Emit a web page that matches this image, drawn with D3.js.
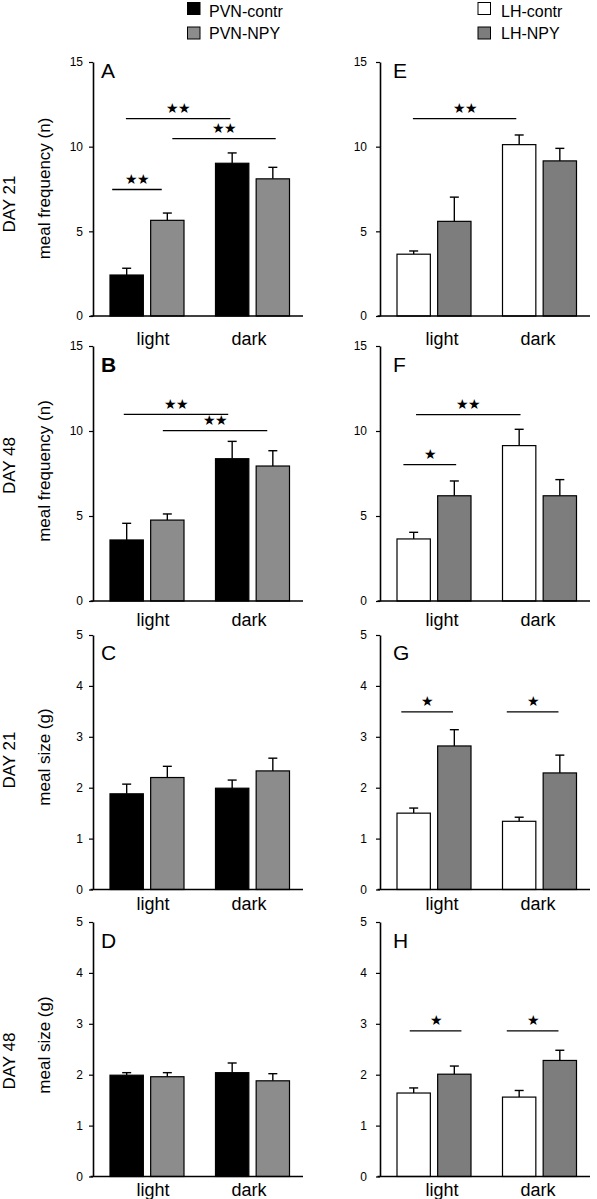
<!DOCTYPE html>
<html>
<head>
<meta charset="utf-8">
<script src="https://cdn.jsdelivr.net/npm/d3@7"></script>
<style>
  html, body { margin: 0; padding: 0; background: #fff; }
  svg { display: block; }
  text { font-family: "Liberation Sans", Arial, sans-serif; fill: #000; }
</style>
</head>
<body>
<script>
// ---------- DATA ----------
const categories = ["light", "dark"];
const pvnSeries = ["PVN-contr", "PVN-NPY"];
const lhSeries = ["LH-contr", "LH-NPY"];
const freqTicks = [0, 5, 10, 15];
const sizeTicks = [0, 1, 2, 3, 4, 5];

// meal frequency (n), DAY 21 — panel A (PVN) and E (LH): [light, dark]
const freqD21PvnContr = [2.42, 9.02];
const freqD21PvnContrSem = [0.40, 0.61];
const freqD21PvnNpy = [5.65, 8.10];
const freqD21PvnNpySem = [0.43, 0.68];
const freqD21LhContr = [3.65, 10.12];
const freqD21LhContrSem = [0.19, 0.57];
const freqD21LhNpy = [5.59, 9.16];
const freqD21LhNpySem = [1.43, 0.74];

// meal frequency (n), DAY 48 — panel B (PVN) and F (LH)
const freqD48PvnContr = [3.59, 8.37];
const freqD48PvnContrSem = [0.98, 1.02];
const freqD48PvnNpy = [4.76, 7.94];
const freqD48PvnNpySem = [0.36, 0.90];
const freqD48LhContr = [3.65, 9.14];
const freqD48LhContrSem = [0.39, 0.96];
const freqD48LhNpy = [6.19, 6.19];
const freqD48LhNpySem = [0.87, 0.95];

// meal size (g), DAY 21 — panel C (PVN) and G (LH)
const sizeD21PvnContr = [1.88, 1.99];
const sizeD21PvnContrSem = [0.19, 0.16];
const sizeD21PvnNpy = [2.20, 2.33];
const sizeD21PvnNpySem = [0.22, 0.25];
const sizeD21LhContr = [1.50, 1.34];
const sizeD21LhContrSem = [0.10, 0.08];
const sizeD21LhNpy = [2.82, 2.29];
const sizeD21LhNpySem = [0.32, 0.35];

// meal size (g), DAY 48 — panel D (PVN) and H (LH)
const sizeD48PvnContr = [1.99, 2.04];
const sizeD48PvnContrSem = [0.05, 0.19];
const sizeD48PvnNpy = [1.96, 1.88];
const sizeD48PvnNpySem = [0.08, 0.14];
const sizeD48LhContr = [1.64, 1.56];
const sizeD48LhContrSem = [0.10, 0.13];
const sizeD48LhNpy = [2.01, 2.28];
const sizeD48LhNpySem = [0.16, 0.20];

// significance bars: [from (category units), to (category units), y value, label]
const sigA = [[-0.33, 0.14, 7.47, "★★"], [-0.20, 0.79, 11.66, "★★"], [0.24, 1.22, 10.47, "★★"]];
const sigB = [[-0.22, 0.77, 10.98, "★★"], [0.15, 1.14, 10.02, "★★"]];
const sigC = [];
const sigD = [];
const sigE = [[-0.20, 0.78, 11.66, "★★"]];
const sigF = [[-0.29, 0.21, 8.02, "★"], [-0.17, 0.82, 10.96, "★★"]];
const sigG = [[-0.31, 0.18, 3.49, "★"], [0.69, 1.18, 3.49, "★"]];
const sigH = [[-0.23, 0.26, 2.86, "★"], [0.69, 1.18, 2.86, "★"]];

// ---------- LAYOUT ----------
const W = 597, H = 1199;
const rows = [
  { top: 62,  zero: 316,   labelDy: 29, titleY: 188.5, dayY: 204,   letterY: 78,  title: "meal frequency (n)", day: "DAY 21", max: 15, ticks: freqTicks },
  { top: 346, zero: 601,   labelDy: 25, titleY: 471,   dayY: 465.5, letterY: 372, title: "meal frequency (n)", day: "DAY 48", max: 15, ticks: freqTicks },
  { top: 635, zero: 889.5, labelDy: 20, titleY: 757,   dayY: 760,   letterY: 660, title: "meal size (g)",      day: "DAY 21", max: 5,  ticks: sizeTicks },
  { top: 922, zero: 1176.5,labelDy: 19, titleY: 1045,  dayY: 1061,  letterY: 948, title: "meal size (g)",      day: "DAY 48", max: 5,  ticks: sizeTicks }
];
const cols = [
  { axisX: 93,  letterDx: 8,  tickPad: 6, fills: ["#000000", "#8c8c8c"], series: pvnSeries, labelShift: 0 },
  { axisX: 380, letterDx: 13, tickPad: 9, fills: ["#ffffff", "#7d7d7d"], series: lhSeries, labelShift: 2 }
];

const panels = [
  { id: "A", row: 0, col: 0, a: freqD21PvnContr, ae: freqD21PvnContrSem, b: freqD21PvnNpy, be: freqD21PvnNpySem, sig: sigA, bold: false },
  { id: "B", row: 1, col: 0, a: freqD48PvnContr, ae: freqD48PvnContrSem, b: freqD48PvnNpy, be: freqD48PvnNpySem, sig: sigB, bold: true },
  { id: "C", row: 2, col: 0, a: sizeD21PvnContr, ae: sizeD21PvnContrSem, b: sizeD21PvnNpy, be: sizeD21PvnNpySem, sig: sigC, bold: false },
  { id: "D", row: 3, col: 0, a: sizeD48PvnContr, ae: sizeD48PvnContrSem, b: sizeD48PvnNpy, be: sizeD48PvnNpySem, sig: sigD, bold: false },
  { id: "E", row: 0, col: 1, a: freqD21LhContr, ae: freqD21LhContrSem, b: freqD21LhNpy, be: freqD21LhNpySem, sig: sigE, bold: false },
  { id: "F", row: 1, col: 1, a: freqD48LhContr, ae: freqD48LhContrSem, b: freqD48LhNpy, be: freqD48LhNpySem, sig: sigF, bold: false },
  { id: "G", row: 2, col: 1, a: sizeD21LhContr, ae: sizeD21LhContrSem, b: sizeD21LhNpy, be: sizeD21LhNpySem, sig: sigG, bold: false },
  { id: "H", row: 3, col: 1, a: sizeD48LhContr, ae: sizeD48LhContrSem, b: sizeD48LhNpy, be: sizeD48LhNpySem, sig: sigH, bold: false }
];

const svg = d3.select("body").append("svg").attr("width", W).attr("height", H);

// ---------- LEGENDS ----------
const legends = [
  { x: 187, textX: 209, series: pvnSeries, fills: cols[0].fills },
  { x: 477.5, textX: 501, series: lhSeries, fills: cols[1].fills }
];
legends.forEach(lg => {
  lg.series.forEach((s, i) => {
    const yTop = [2, 26.5][i];
    svg.append("rect")
      .attr("x", lg.x + 0.5).attr("y", yTop + 0.5)
      .attr("width", 12.5).attr("height", 12)
      .attr("fill", lg.fills[i]).attr("stroke", "#000").attr("stroke-width", 1);
    svg.append("text")
      .attr("x", lg.textX).attr("y", [16.5, 38.5][i])
      .attr("font-size", 16).text(s);
  });
});

// ---------- ROW TITLES ----------
rows.forEach(r => {
  svg.append("text")
    .attr("transform", `translate(49.5,${r.titleY}) rotate(-90)`)
    .attr("text-anchor", "middle").attr("font-size", 17).text(r.title);
  svg.append("text")
    .attr("transform", `translate(14.5,${r.dayY}) rotate(-90)`)
    .attr("text-anchor", "middle").attr("font-size", 17).text(r.day);
});

// ---------- PANELS ----------
panels.forEach(p => {
  const r = rows[p.row], c = cols[p.col];
  const g = svg.append("g");
  const y = d3.scaleLinear().domain([0, r.max]).range([r.zero, r.top]);
  const xc = d3.scaleLinear().domain([0, 1]).range([c.axisX + 54, c.axisX + 159.5]);
  const xs = d3.scaleBand().domain([0, 1]).range([-37, 37]).paddingInner(0.18);
  const xLab = d3.scalePoint().domain(categories).range([c.axisX + 60 + c.labelShift, c.axisX + 156 + c.labelShift]);

  const series = [
    { vals: p.a, errs: p.ae, fill: c.fills[0] },
    { vals: p.b, errs: p.be, fill: c.fills[1] }
  ];
  const bars = [];
  series.forEach((s, si) => {
    categories.forEach((cat, ci) => {
      bars.push({ ci, si, v: s.vals[ci], e: s.errs[ci], fill: s.fill });
    });
  });

  // error bars (upward only)
  const eb = g.append("g").attr("stroke", "#000").attr("stroke-width", 1.4);
  bars.forEach(d => {
    const cx = xc(d.ci) + xs(d.si) + xs.bandwidth() / 2;
    eb.append("line").attr("x1", cx).attr("x2", cx).attr("y1", y(d.v)).attr("y2", y(d.v + d.e));
    eb.append("line").attr("x1", cx - 4.5).attr("x2", cx + 4.5).attr("y1", y(d.v + d.e)).attr("y2", y(d.v + d.e));
  });

  // bars
  g.append("g").selectAll("rect").data(bars).join("rect")
    .attr("x", d => xc(d.ci) + xs(d.si))
    .attr("y", d => y(d.v))
    .attr("width", xs.bandwidth())
    .attr("height", d => y(0) - y(d.v))
    .attr("fill", d => d.fill)
    .attr("stroke", "#000").attr("stroke-width", 1.2);

  // y axis
  const ya = g.append("g").attr("transform", `translate(${c.axisX},0)`)
    .call(d3.axisLeft(y).tickValues(r.ticks).tickFormat(d3.format("d")).tickSize(4).tickSizeOuter(0).tickPadding(c.tickPad));
  ya.select(".domain").attr("stroke", "#000").attr("stroke-width", 1.6);
  ya.selectAll(".tick line").attr("stroke", "#000").attr("stroke-width", 1.2);
  ya.selectAll(".tick text").attr("font-size", 12).attr("font-family", "Liberation Sans, Arial, sans-serif").attr("fill", "#000");

  // x axis line
  g.append("line")
    .attr("x1", c.axisX - 2.5).attr("x2", c.axisX + 210)
    .attr("y1", y(0)).attr("y2", y(0))
    .attr("stroke", "#000").attr("stroke-width", 1.6);

  // category labels
  g.selectAll("text.cat").data(categories).join("text")
    .attr("class", "cat")
    .attr("x", d => xLab(d)).attr("y", r.zero + r.labelDy)
    .attr("text-anchor", "middle").attr("font-size", 18)
    .text(d => d);

  // panel letter
  g.append("text")
    .attr("x", c.axisX + c.letterDx).attr("y", r.letterY)
    .attr("font-size", 21).attr("font-weight", p.bold ? "bold" : "normal")
    .text(p.id);

  // significance
  p.sig.forEach(s => {
    const x1 = xc(s[0]), x2 = xc(s[1]), yy = y(s[2]);
    g.append("line").attr("x1", x1).attr("x2", x2).attr("y1", yy).attr("y2", yy)
      .attr("stroke", "#000").attr("stroke-width", 1.3);
    g.append("text")
      .attr("x", (x1 + x2) / 2).attr("y", yy - 5.5)
      .attr("text-anchor", "middle")
      .attr("font-family", "DejaVu Sans, sans-serif")
      .attr("font-size", 14)
      .attr("letter-spacing", -1)
      .text(s[3]);
  });
});
</script>
</body>
</html>
